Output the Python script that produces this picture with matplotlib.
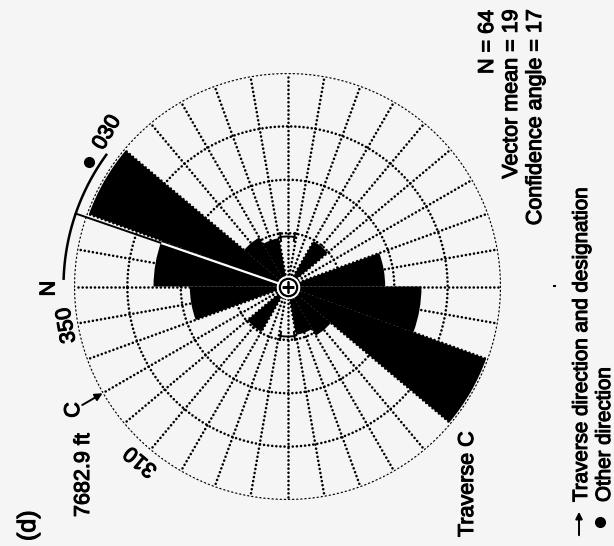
import numpy as np
import matplotlib
matplotlib.use("Agg")
import matplotlib.pyplot as plt
import matplotlib.patheffects as pe

plt.rcParams['font.family'] = ['Liberation Sans', 'DejaVu Sans']

# Axial rose: 20-degree bins over 0-180, mirrored onto 180-360
bin_starts = [0, 20, 40, 60, 80, 100, 120, 140, 160]
petal_len = [25.1, 39.6, 10.6, 9.2, 0.0, 0.0, 9.8, 0.0, 18.3]
ring_values = [10, 20, 30, 40]
spoke_step = 10

n_obs = 64
vector_mean = 19
conf_angle = 17
traverse_bearing = 330
other_bearing = 32
tick_labels = ["N", "350", "310"]
tick_bearings = [359.5, 350, 310]

W, H = 614, 546
BG = '#f5f5f5'
fig = plt.figure(figsize=(W / 100, H / 100), dpi=100, facecolor=BG)

cx, cy, R = 287.5, 286.5, 213.5
ax = fig.add_axes([(cx - R) / W, (H - cy - R) / H, 2 * R / W, 2 * R / H],
                  projection='polar')
ax.set_theta_zero_location('W')
ax.set_theta_direction(-1)
rmax = ring_values[-1]
ax.set_rlim(0, rmax)
ax.axis('off')

px = rmax / R  # data units per pixel


def rad(deg):
    return np.deg2rad(deg)


dot = dict(color='black', lw=1.9, linestyle=(0, (0.01, 1.55)),
           dash_capstyle='round', zorder=2)

# dotted spokes and rings
for b in range(0, 360, spoke_step):
    ax.plot([rad(b), rad(b)], [0, rmax], **dot)
tt = np.linspace(0, 2 * np.pi, 721)
for rv in ring_values:
    ax.plot(tt, np.full_like(tt, rv), **dot)

# petals
starts = np.array(bin_starts + [b + 180 for b in bin_starts], dtype=float)
lens = np.array(petal_len + petal_len)
ax.bar(rad(starts + 10), lens, width=rad(20), color='black',
       edgecolor='none', linewidth=0, zorder=3)

# small bracket marks on the inner ring
for b in (90, 270):
    arc = np.linspace(rad(b - 8), rad(b + 8), 30)
    ax.plot(arc, np.full_like(arc, 50 * px), color='black', lw=1.4, zorder=4)
    for e in (b - 8, b + 8):
        ax.plot([rad(e), rad(e)], [46 * px, 54 * px], color='black',
                lw=1.4, zorder=4)

# confidence arc and vector mean
r_arc = 224 * px
arc = np.linspace(rad(vector_mean - conf_angle), rad(vector_mean + conf_angle), 100)
ax.plot(arc, np.full_like(arc, r_arc), color='black', lw=1.8,
        clip_on=False, zorder=5)
ax.plot([rad(vector_mean)] * 2, [0, r_arc], color='black', lw=1.4,
        clip_on=False, zorder=5)
ax.plot([rad(vector_mean)] * 2, [0, petal_len[0] - 0.3], color='white',
        lw=1.6, zorder=6)

# centre symbol
ax.plot([0], [0], marker='o', ms=17, mfc='white', mec='none', zorder=7)
ax.plot([0], [0], marker='o', ms=12.5, mfc='white', mec='black', mew=1.6,
        zorder=8)
ax.plot([0], [0], marker='+', ms=8, mec='black', mew=1.8, zorder=9)

FS = 15.5
bold = [pe.withStroke(linewidth=0.8, foreground='black')]
tkw = dict(fontsize=FS, color='black', rotation_mode='anchor', path_effects=bold)

# bearing labels
label_r = [238.5, 224, 228]
for lab, b, r in zip(tick_labels, tick_bearings, label_r):
    rot = 90 if lab == "N" else (90 - b) % 360
    ax.text(rad(b), r * px, lab, rotation=rot, ha='center', va='center', **tkw)
ax.text(rad(40.5), 237 * px, "030", rotation=60, ha='center', va='center', **tkw)
ax.plot([rad(other_bearing)], [234 * px], marker='o', ms=7, color='black',
        clip_on=False, zorder=5)

# traverse arrow and designation
ax.annotate("", xy=(rad(traverse_bearing), R * px),
            xytext=(rad(traverse_bearing), 237 * px),
            arrowprops=dict(arrowstyle='-|>', color='black', lw=1.4,
                            mutation_scale=11, shrinkA=0, shrinkB=0),
            annotation_clip=False)
ax.text(rad(traverse_bearing), 247 * px, "C", rotation=90, ha='center',
        va='center', **tkw)


def fig_text(x, y, s, ha='left', size=FS):
    fig.text(x / W, 1 - y / H, s, rotation=90, ha=ha, va='baseline',
             fontsize=size, color='black', rotation_mode='anchor',
             path_effects=bold)


fig_text(35, 541, "(d)", size=18)
fig_text(89, 517, "7682.9 ft")
fig_text(473, 537, "Traverse C")
fig_text(493, 10, f"N = {n_obs}", ha='right')
fig_text(517, 10, f"Vector mean = {vector_mean}", ha='right')
fig_text(541, 10, f"Confidence angle = {conf_angle}", ha='right')
fig_text(587, 502, "Traverse direction and designation", size=14.8)
fig_text(610, 502, "Other direction", size=14.8)
fig_text(555, 288, ".", size=12)

# legend symbols
fig.add_artist(matplotlib.patches.FancyArrowPatch(
    (579 / W, 1 - 538 / H), (579 / W, 1 - 509 / H),
    transform=fig.transFigure, arrowstyle='-|>', mutation_scale=10,
    color='black', lw=1.4))
fig.add_artist(matplotlib.lines.Line2D([600 / W], [1 - 522 / H], marker='o',
                                       ms=7, color='black',
                                       transform=fig.transFigure))

fig.savefig("out.png", dpi=100, facecolor=BG)
